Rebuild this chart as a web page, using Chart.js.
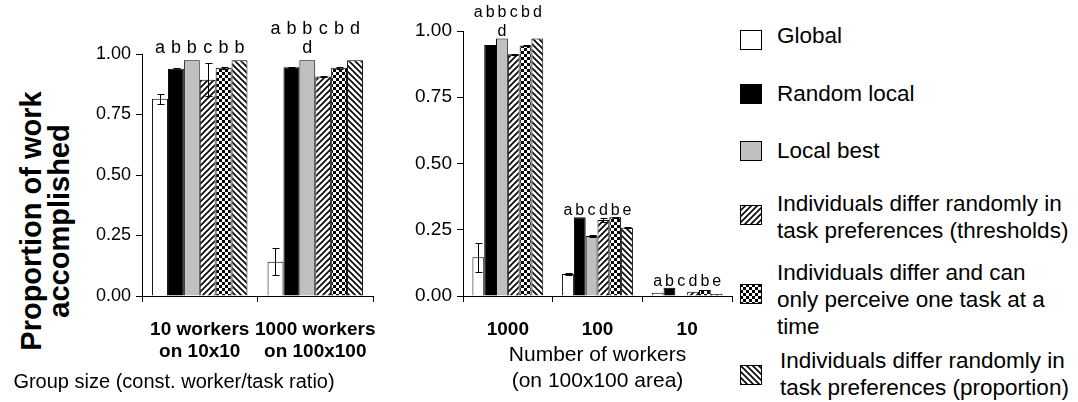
<!DOCTYPE html>
<html>
<head>
<meta charset="utf-8">
<script src="https://cdn.jsdelivr.net/npm/chart.js@4"></script>
<style>
  body { margin: 0; background: #fff; width: 1078px; height: 402px; position: relative; overflow: hidden;
         font-family: "Liberation Sans", Arial, sans-serif; color: #000; }
  canvas.chart { position: absolute; top: 0; }
  #yTitle { position: absolute; left: -105px; top: 193px; width: 300px; font-weight: bold; font-size: 29px;
            line-height: 28px; text-align: center; white-space: nowrap; transform: rotate(-90deg); }
  #xTitleA { position: absolute; left: 0; width: 348px; top: 369px; font-size: 20px; line-height: 24px;
             text-align: center; white-space: nowrap; }
  .lg { position: absolute; left: 777px; font-size: 22.5px; line-height: 27px; white-space: nowrap; }
  .sw { position: absolute; left: 740px; }
</style>
</head>
<body>
<div id="yTitle">Proportion of work<br>accomplished</div>
<canvas id="chartA" class="chart" width="380" height="402" style="left:0"></canvas>
<canvas id="chartB" class="chart" width="360" height="402" style="left:380px"></canvas>
<div id="xTitleA">Group size (const. worker/task ratio)</div>
<div id="legend"></div>
<script>
// ---- data ----
const categoriesA = [['10 workers', 'on 10x10'], ['1000 workers', 'on 100x100']];
const categoriesB = ['1000', '100', '10'];
const yTickLabels = ['0.00', '0.25', '0.50', '0.75', '1.00'];

const seriesNames = ['Global', 'Random local', 'Local best',
  'Individuals differ randomly in task preferences (thresholds)',
  'Individuals differ and can only perceive one task at a time',
  'Individuals differ randomly in task preferences (proportion)'];
const legendLines = [
  ['Global'], ['Random local'], ['Local best'],
  ['Individuals differ randomly in', 'task preferences (thresholds)'],
  ['Individuals differ and can', 'only perceive one task at a', 'time'],
  ['Individuals differ randomly in', 'task preferences (proportion)']];

// left panel: group size
const globalA  = [0.815, 0.142];
const randomA  = [0.939, 0.945];
const bestA    = [0.974, 0.974];
const threshA  = [0.894, 0.907];
const oneTaskA = [0.943, 0.943];
const propA    = [0.974, 0.974];
const globalErrA  = [0.020, 0.055];
const randomErrA  = [0.005, 0.003];
const bestErrA    = [0, 0];
const threshErrA  = [0.068, 0.003];
const oneTaskErrA = [0.004, 0.004];
const propErrA    = [0, 0];
const lettersA  = ['abbcbb', 'abbcbd'];
const lettersA2 = ['      ', '  d   '];

// right panel: number of workers
const globalB  = [0.146, 0.083, 0.012];
const randomB  = [0.947, 0.297, 0.031];
const bestB    = [0.972, 0.226, 0.000];
const threshB  = [0.912, 0.287, 0.016];
const oneTaskB = [0.945, 0.297, 0.023];
const propB    = [0.972, 0.258, 0.008];
const globalErrB  = [0.055, 0.003, 0];
const randomErrB  = [0, 0, 0];
const bestErrB    = [0, 0.004, 0];
const threshErrB  = [0.003, 0.006, 0];
const oneTaskErrB = [0.003, 0.003, 0];
const propErrB    = [0, 0.003, 0];
const lettersB  = ['abbcbd', 'abcdbe', 'abcdbe'];
const lettersB2 = ['  d   ', '      ', '      '];

Chart.defaults.font.family = '"Liberation Sans", Arial, sans-serif';
Chart.defaults.color = '#000';

function makePattern(kind) {
  const c = document.createElement('canvas');
  c.width = 6; c.height = 6;
  const g = c.getContext('2d');
  g.fillStyle = '#fff'; g.fillRect(0, 0, 6, 6);
  g.fillStyle = '#000'; g.strokeStyle = '#000'; g.lineWidth = 1.6;
  if (kind === 'check') {
    g.fillRect(0, 0, 3, 3); g.fillRect(3, 3, 3, 3);
  } else if (kind === 'fwd') {
    g.beginPath();
    g.moveTo(-1, 7); g.lineTo(7, -1);
    g.moveTo(-1, 1); g.lineTo(1, -1);
    g.moveTo(5, 7); g.lineTo(7, 5);
    g.stroke();
  } else {
    g.beginPath();
    g.moveTo(-1, -1); g.lineTo(7, 7);
    g.moveTo(5, -1); g.lineTo(7, 1);
    g.moveTo(-1, 5); g.lineTo(1, 7);
    g.stroke();
  }
  return g.createPattern(c, 'repeat');
}
const fills = ['#ffffff', '#000000', '#c0c0c0', makePattern('fwd'), makePattern('check'), makePattern('back')];

// error bars + significance letters
const sigPlugin = {
  id: 'sig',
  afterDatasetsDraw(chart, args, o) {
    const ctx = chart.ctx, y = chart.scales.y;
    const sets = chart.data.datasets;
    ctx.save();
    ctx.strokeStyle = '#000';
    ctx.lineWidth = 1;
    sets.forEach((ds, i) => {
      chart.getDatasetMeta(i).data.forEach((bar, j) => {
        const e = o.errors[i][j];
        if (!e) return;
        const v = ds.data[j];
        const top = Math.round(y.getPixelForValue(v + e)) + 0.5;
        const bot = Math.round(y.getPixelForValue(Math.max(0, v - e))) + 0.5;
        const x = Math.round(bar.x) + 0.5;
        ctx.beginPath();
        ctx.moveTo(x, top); ctx.lineTo(x, bot);
        ctx.moveTo(x - 3, top); ctx.lineTo(x + 4, top);
        ctx.moveTo(x - 3, bot); ctx.lineTo(x + 4, bot);
        ctx.stroke();
      });
    });
    ctx.fillStyle = '#000';
    ctx.font = o.font;
    ctx.textAlign = 'center';
    ctx.textBaseline = 'alphabetic';
    chart.data.labels.forEach((lab, j) => {
      const top = Math.min(...sets.map((ds, i) => y.getPixelForValue(ds.data[j] + o.errors[i][j])));
      let base = top - o.gap;
      const drawRow = (str, b) => {
        str.split('').forEach((ch, k) => {
          if (ch === ' ') return;
          ctx.fillText(ch, chart.getDatasetMeta(k).data[j].x, b);
        });
      };
      if (o.letters2[j].trim()) {
        drawRow(o.letters2[j], base);
        base -= 19;
      }
      drawRow(o.letters[j], base);
    });
    ctx.restore();
  }
};

function buildChart(id, labels, series, errors, letters, letters2, cfg) {
  new Chart(document.getElementById(id), {
    type: 'bar',
    data: {
      labels: labels,
      datasets: series.map((data, i) => ({
        label: seriesNames[i],
        data: data,
        backgroundColor: fills[i],
        borderColor: '#000',
        borderWidth: 1
      }))
    },
    options: {
      responsive: false,
      animation: false,
      layout: { padding: { top: cfg.padTop, right: cfg.padRight, left: 0, bottom: 0 } },
      datasets: { bar: { barPercentage: 1, categoryPercentage: cfg.catPct } },
      plugins: {
        legend: { display: false },
        tooltip: { enabled: false },
        sig: { errors: errors, letters: letters, letters2: letters2, font: cfg.letterFont, gap: cfg.gap }
      },
      scales: {
        x: {
          grid: { offset: true, drawOnChartArea: false, color: '#000', tickLength: 6 },
          border: { color: '#000' },
          ticks: { font: { size: 19, weight: 'bold' }, color: '#000', padding: 16,
                   maxRotation: 0, autoSkip: false },
          title: cfg.xTitle,
          afterFit: s => { s.height = 106; s.paddingLeft = 0; s.paddingRight = 0; }
        },
        y: {
          min: 0, max: 1,
          grid: { drawOnChartArea: false, color: '#000', tickLength: 6 },
          border: { color: '#000' },
          ticks: { stepSize: 0.25, font: { size: cfg.tickSize }, color: '#000', padding: 5,
                   callback: (v, i) => yTickLabels[i] },
          afterFit: s => { s.width = cfg.yWidth; s.paddingTop = 0; s.paddingBottom = 0; }
        }
      }
    },
    plugins: [sigPlugin]
  });
}

buildChart('chartA', categoriesA,
  [globalA, randomA, bestA, threshA, oneTaskA, propA],
  [globalErrA, randomErrA, bestErrA, threshErrA, oneTaskErrA, propErrA],
  lettersA, lettersA2,
  { padTop: 54, padRight: 7, catPct: 0.826, yWidth: 142, tickSize: 18, gap: 7,
    letterFont: '18px "Liberation Sans", Arial', xTitle: { display: false } });

buildChart('chartB', categoriesB,
  [globalB, randomB, bestB, threshB, oneTaskB, propB],
  [globalErrB, randomErrB, bestErrB, threshErrB, oneTaskErrB, propErrB],
  lettersB, lettersB2,
  { padTop: 31, padRight: 8, catPct: 0.79, yWidth: 83, tickSize: 19, gap: 2,
    letterFont: '16px "Liberation Sans", Arial',
    xTitle: { display: true, text: ['Number of workers', '(on 100x100 area)'], color: '#000',
              font: { size: 21, lineHeight: '26px' }, padding: { top: 0, bottom: 8 } } });

// legend
const boxTops = [30, 84, 141, 205, 284, 365];
const textTops = [21.5, 79.5, 136.5, 189.5, 258.5, 346.5];
const legend = document.getElementById('legend');
legendLines.forEach((lines, i) => {
  const sw = document.createElement('canvas');
  sw.className = 'sw';
  sw.width = 22; sw.height = 20;
  sw.style.top = boxTops[i] + 'px';
  const g = sw.getContext('2d');
  g.fillStyle = fills[i];
  g.fillRect(0, 0, 22, 20);
  g.strokeStyle = '#000';
  g.lineWidth = 1;
  g.strokeRect(0.5, 0.5, 21, 19);
  legend.appendChild(sw);
  const t = document.createElement('div');
  t.className = 'lg';
  t.style.top = textTops[i] + 'px';
  if (i === 5) t.style.left = '780px';
  t.innerHTML = lines.join('<br>');
  legend.appendChild(t);
});
</script>
</body>
</html>
